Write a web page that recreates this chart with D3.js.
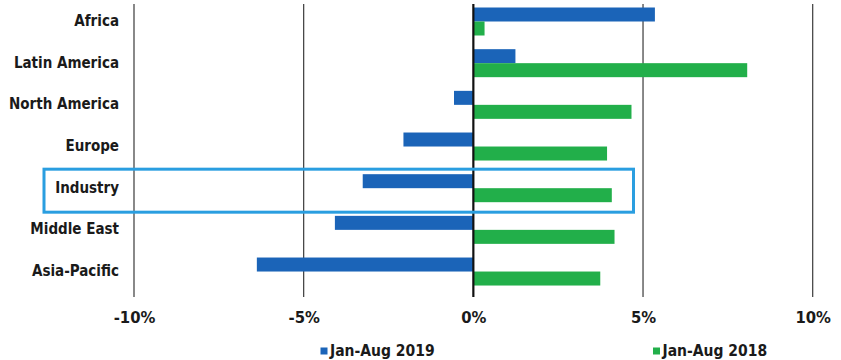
<!DOCTYPE html>
<html>
<head>
<meta charset="utf-8">
<script src="https://cdn.jsdelivr.net/npm/d3@7/dist/d3.min.js"></script>
<style>
  html, body { margin: 0; padding: 0; background: #fff; }
  svg { display: block; }
  text { font-family: "DejaVu Sans Condensed", "DejaVu Sans", sans-serif; fill: #1a1a1a; }
</style>
</head>
<body>
<svg id="chart" width="841" height="360"></svg>
<script>
// Regional growth, year over year (%)
const regions = ["Africa", "Latin America", "North America", "Europe", "Industry", "Middle East", "Asia-Pacific"];
const growth2019 = [5.35, 1.24, -0.57, -2.06, -3.26, -4.08, -6.38];
const growth2018 = [0.33, 8.07, 4.66, 3.94, 4.08, 4.16, 3.74];
const seriesNames = ["Jan-Aug 2019", "Jan-Aug 2018"];
const xTicks = [-10, -5, 0, 5, 10];
const highlighted = "Industry";

const colors = ["#1b64b8", "#22af4a"];

const svg = d3.select("#chart");

const x = d3.scaleLinear().domain([-10, 10]).range([134, 812.7]);
const y = d3.scaleBand().domain(regions).range([1, 292.7]).paddingInner(0).paddingOuter(0);

const plotTop = 4, plotBottom = 297;

// vertical gridlines
svg.append("g")
  .selectAll("line")
  .data(xTicks.filter(d => d !== 0))
  .join("line")
  .attr("x1", d => x(d)).attr("x2", d => x(d))
  .attr("y1", plotTop).attr("y2", plotBottom)
  .attr("stroke", "#3a3a3a").attr("stroke-width", 1.2);

// bars
const barH = 14;
const groups = svg.append("g")
  .selectAll("g")
  .data(regions)
  .join("g")
  .attr("transform", d => `translate(0,${y(d)})`);

groups.append("rect")
  .attr("x", (d, i) => Math.min(x(0), x(growth2019[i])))
  .attr("y", 6.5)
  .attr("width", (d, i) => Math.abs(x(growth2019[i]) - x(0)))
  .attr("height", barH)
  .attr("fill", colors[0]);

groups.append("rect")
  .attr("x", (d, i) => Math.min(x(0), x(growth2018[i])))
  .attr("y", 6.5 + barH)
  .attr("width", (d, i) => Math.abs(x(growth2018[i]) - x(0)))
  .attr("height", barH)
  .attr("fill", colors[1]);

// zero line
svg.append("line")
  .attr("x1", x(0)).attr("x2", x(0))
  .attr("y1", plotTop).attr("y2", plotBottom)
  .attr("stroke", "#111").attr("stroke-width", 2.2);

// category labels
svg.append("g")
  .selectAll("text")
  .data(regions)
  .join("text")
  .attr("x", 119)
  .attr("y", d => y(d) + y.bandwidth() / 2 - 0.5)
  .attr("text-anchor", "end")
  .attr("dominant-baseline", "middle")
  .attr("font-size", 15)
  .attr("font-weight", "bold")
  .attr("fill", "#222")
  .text(d => d);

// highlight box around the industry total
const hy = y(highlighted);
svg.append("rect")
  .attr("x", 44).attr("y", hy + 1.5)
  .attr("width", 589.5).attr("height", 43)
  .attr("fill", "none")
  .attr("stroke", "#2a9ee0").attr("stroke-width", 3);

// x axis labels
const xAxis = d3.axisBottom(x)
  .tickValues(xTicks)
  .tickSize(0)
  .tickPadding(0)
  .tickFormat(d => d + "%");
const ax = svg.append("g").attr("transform", "translate(0,311)").call(xAxis);
ax.select(".domain").remove();
ax.selectAll("text")
  .attr("font-size", 16.5)
  .attr("font-weight", "bold")
  .attr("font-family", "\"DejaVu Sans Condensed\", \"DejaVu Sans\", sans-serif")
  .attr("fill", "#222");

// legend
const legendX = [320.5, 653];
const legend = svg.append("g")
  .selectAll("g")
  .data(seriesNames)
  .join("g")
  .attr("transform", (d, i) => `translate(${legendX[i]},351.5)`);
legend.append("rect")
  .attr("x", 0).attr("y", -4).attr("width", 7).attr("height", 7)
  .attr("fill", (d, i) => colors[i]);
legend.append("text")
  .attr("x", 9.5).attr("y", 0)
  .attr("dominant-baseline", "middle")
  .attr("font-size", 15.5)
  .attr("font-weight", "bold")
  .attr("fill", "#222")
  .text(d => d);
</script>
</body>
</html>
